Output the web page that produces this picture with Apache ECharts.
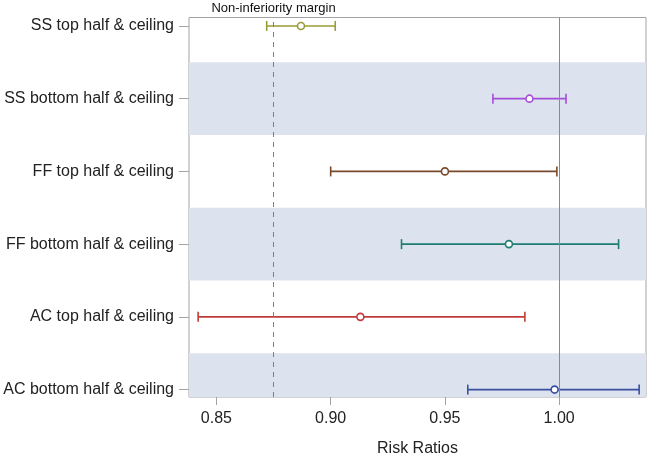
<!DOCTYPE html>
<html>
<head>
<meta charset="utf-8">
<script src="https://cdn.jsdelivr.net/npm/echarts@6/dist/echarts.min.js"></script>
<style>
html,body{margin:0;padding:0;background:#fff;}
#chart{width:649px;height:455px;}
</style>
</head>
<body>
<div id="chart"></div>
<script>
// Categories, top to bottom
const categories = [
  'SS top half & ceiling',
  'SS bottom half & ceiling',
  'FF top half & ceiling',
  'FF bottom half & ceiling',
  'AC top half & ceiling',
  'AC bottom half & ceiling'
];
const lowerCI  = [0.872, 0.971, 0.900, 0.931, 0.842, 0.960];
const estimate = [0.887, 0.987, 0.950, 0.978, 0.913, 0.998];
const upperCI  = [0.902, 1.003, 0.999, 1.026, 0.985, 1.035];
const xTicks = [0.85, 0.90, 0.95, 1.00];
const marginValue = 0.875;
const nullValue = 1.00;
const colors = ['#9b9b35', '#a64ddb', '#7a4a2c', '#1f7d70', '#c23b3b', '#3b4fa0'];

const n = categories.length;
const yPos = categories.map((c, i) => n - i);
const font = 'Liberation Sans, Arial, sans-serif';

const errData = categories.map((c, i) => ({
  value: [yPos[i], lowerCI[i], upperCI[i]],
  itemStyle: { color: colors[i] }
}));
const ptData = categories.map((c, i) => ({
  value: [estimate[i], yPos[i]],
  itemStyle: { color: '#fff', borderColor: colors[i] }
}));
const bands = [];
for (let k = 1; k <= n; k += 2) bands.push([{ yAxis: k - 0.5 }, { yAxis: k + 0.5 }]);
bands[0][0].yAxis = 0.898;

const chart = echarts.init(document.getElementById('chart'));
chart.setOption({
  animation: false,
  backgroundColor: '#fff',
  grid: { left: 189, right: 3, top: 17.5, bottom: 58, show: true, borderColor: '#a3a3a3', borderWidth: 1,
    containLabel: false, outerBoundsMode: 'none' },
  xAxis: {
    type: 'value', min: 0.838, max: 1.038,
    name: 'Risk Ratios', nameLocation: 'middle', nameGap: 44,
    nameTextStyle: { fontFamily: font, fontSize: 16, color: '#222' },
    axisLine: { show: false },
    axisTick: { show: true, length: 8, lineStyle: { color: '#a3a3a3' }, customValues: xTicks },
    axisLabel: { fontFamily: font, fontSize: 16, color: '#222', margin: 14, customValues: xTicks, formatter: v => v.toFixed(2) },
    splitLine: { show: false }
  },
  yAxis: {
    type: 'value', min: 0.898, max: 6.116,
    axisLine: { show: false },
    axisTick: { show: true, length: 10, lineStyle: { color: '#a3a3a3' }, customValues: yPos },
    axisLabel: { fontFamily: font, fontSize: 16, color: '#222', margin: 15, customValues: yPos,
      formatter: v => { const i = n - Math.round(v); return categories[i] || ''; } },
    splitLine: { show: false }
  },
  series: [
    {
      type: 'custom',
      coordinateSystem: 'cartesian2d',
      encode: { x: [1, 2], y: 0 },
      data: errData,
      z: 3,
      markArea: { silent: true, itemStyle: { color: '#dde3ee' }, data: bands },
      markLine: {
        silent: true, symbol: 'none', precision: 4,
        data: [
          { xAxis: marginValue, lineStyle: { type: [5, 5], color: '#7f7f7f', width: 1 },
            label: { show: true, position: 'end', formatter: 'Non-inferiority margin', fontFamily: font, fontSize: 13, color: '#111', distance: 3 } },
          { xAxis: nullValue, lineStyle: { type: 'solid', color: '#8a8a8a', width: 1 }, label: { show: false } }
        ]
      },
      renderItem: function (params, api) {
        const y = api.value(0);
        const p1 = api.coord([api.value(1), y]);
        const p2 = api.coord([api.value(2), y]);
        const color = api.visual('color');
        const h = 5;
        const style = { stroke: color, lineWidth: 1.6 };
        return {
          type: 'group',
          children: [
            { type: 'line', shape: { x1: p1[0], y1: p1[1], x2: p2[0], y2: p2[1] }, style: style },
            { type: 'line', shape: { x1: p1[0], y1: p1[1] - h, x2: p1[0], y2: p1[1] + h }, style: style },
            { type: 'line', shape: { x1: p2[0], y1: p2[1] - h, x2: p2[0], y2: p2[1] + h }, style: style }
          ]
        };
      }
    },
    {
      type: 'scatter',
      data: ptData,
      symbol: 'circle',
      symbolSize: 7,
      z: 5,
      itemStyle: { borderWidth: 1.6, opacity: 1 }
    }
  ]
});
</script>
</body>
</html>
